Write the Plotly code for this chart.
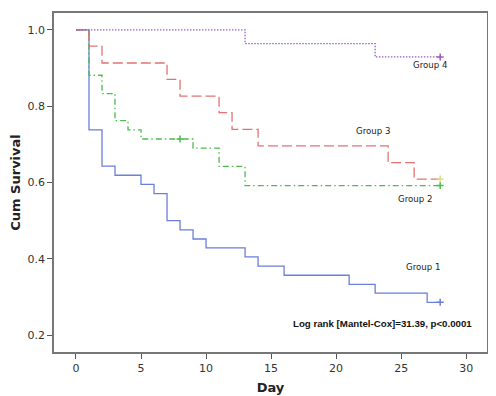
import plotly.graph_objects as go

# Kaplan-Meier step data (event days and survival after each step)
g1_days = [0, 1, 2, 3, 5, 6, 7, 8, 9, 10, 13, 14, 16, 21, 23, 27, 28]
g1_surv = [1.0, 0.738, 0.643, 0.619, 0.595, 0.571, 0.500, 0.476, 0.452, 0.429,
           0.405, 0.381, 0.357, 0.333, 0.310, 0.286, 0.286]

g2_days = [0, 1, 2, 3, 4, 5, 9, 11, 13, 28]
g2_surv = [1.0, 0.881, 0.833, 0.762, 0.738, 0.714, 0.690, 0.642, 0.592, 0.592]
g2_cens_days = [8, 28]
g2_cens_surv = [0.714, 0.592]

g3_days = [0, 1, 2, 7, 8, 11, 12, 14, 24, 26, 28]
g3_surv = [1.0, 0.957, 0.913, 0.870, 0.826, 0.783, 0.739, 0.696, 0.652, 0.609, 0.609]

g4_days = [0, 13, 23, 28]
g4_surv = [1.0, 0.964, 0.929, 0.929]

group_names = ["Group 1", "Group 2", "Group 3", "Group 4"]
label_pos_x = [26.7, 26.1, 22.8, 27.25]
label_pos_y = [0.379, 0.556, 0.734, 0.909]

x_ticks = [0, 5, 10, 15, 20, 25, 30]
y_ticks = [0.2, 0.4, 0.6, 0.8, 1.0]

colors = ["#6b7fdc", "#4dbb4d", "#e37373", "#9b5cc0"]
cens3_color = "#d9e08c"

fig = go.Figure()

series = [
    (g1_days, g1_surv, colors[0], "solid"),
    (g2_days, g2_surv, colors[1], "6px,3px,1.5px,3px"),
    (g3_days, g3_surv, colors[2], "10px,4px"),
    (g4_days, g4_surv, colors[3], "1.5px,1.5px"),
]
for (d, s, c, dash), name in zip(series, group_names):
    fig.add_trace(go.Scatter(x=d, y=s, mode="lines", line_shape="hv",
                             line=dict(color=c, width=1.3, dash=dash),
                             name=name, showlegend=False, hoverinfo="skip"))

# censor marks
cens = [
    ([g1_days[-1]], [g1_surv[-1]], colors[0]),
    (g2_cens_days, g2_cens_surv, colors[1]),
    ([g3_days[-1]], [g3_surv[-1]], cens3_color),
    ([g4_days[-1]], [g4_surv[-1]], colors[3]),
]
for d, s, c in cens:
    fig.add_trace(go.Scatter(x=d, y=s, mode="markers",
                             marker=dict(symbol="cross-thin", size=5,
                                         line=dict(color=c, width=1.5)),
                             showlegend=False, hoverinfo="skip"))

for name, lx, ly in zip(group_names, label_pos_x, label_pos_y):
    fig.add_annotation(x=lx, y=ly, text=name, showarrow=False,
                       font=dict(family="DejaVu Sans", size=8.6, color="#222"))

fig.add_annotation(x=23.53, y=0.2313, text="<b>Log rank [Mantel-Cox]=31.39, p<0.0001</b>",
                   showarrow=False,
                   font=dict(family="Liberation Sans", size=9.7, color="#111"))

axis_common = dict(showline=True, linecolor="#777", linewidth=1.5, mirror=True,
                   showgrid=False, zeroline=False, ticks="outside", ticklen=5,
                   tickcolor="#555", tickwidth=1.2,
                   tickfont=dict(family="DejaVu Sans", size=11, color="#333"))

# the page body has an 8px default margin, so the figure is sized to fit the window
fig.update_layout(
    width=488, height=388,
    margin=dict(l=46, r=9, t=3, b=37),
    paper_bgcolor="white", plot_bgcolor="white",
    xaxis=dict(range=[-1.69, 31.6], tickvals=x_ticks,
               ticktext=[str(t) for t in x_ticks],
               title=dict(text="<b>Day</b>", standoff=9,
                          font=dict(family="DejaVu Sans", size=13, color="#222")),
               **axis_common),
    yaxis=dict(range=[0.156, 1.044], tickvals=y_ticks,
               ticktext=["%.1f" % t for t in y_ticks],
               title=dict(text="<b>Cum Survival</b>", standoff=6,
                          font=dict(family="DejaVu Sans", size=13, color="#222")),
               **axis_common),
)

fig.write_html("out.html")
